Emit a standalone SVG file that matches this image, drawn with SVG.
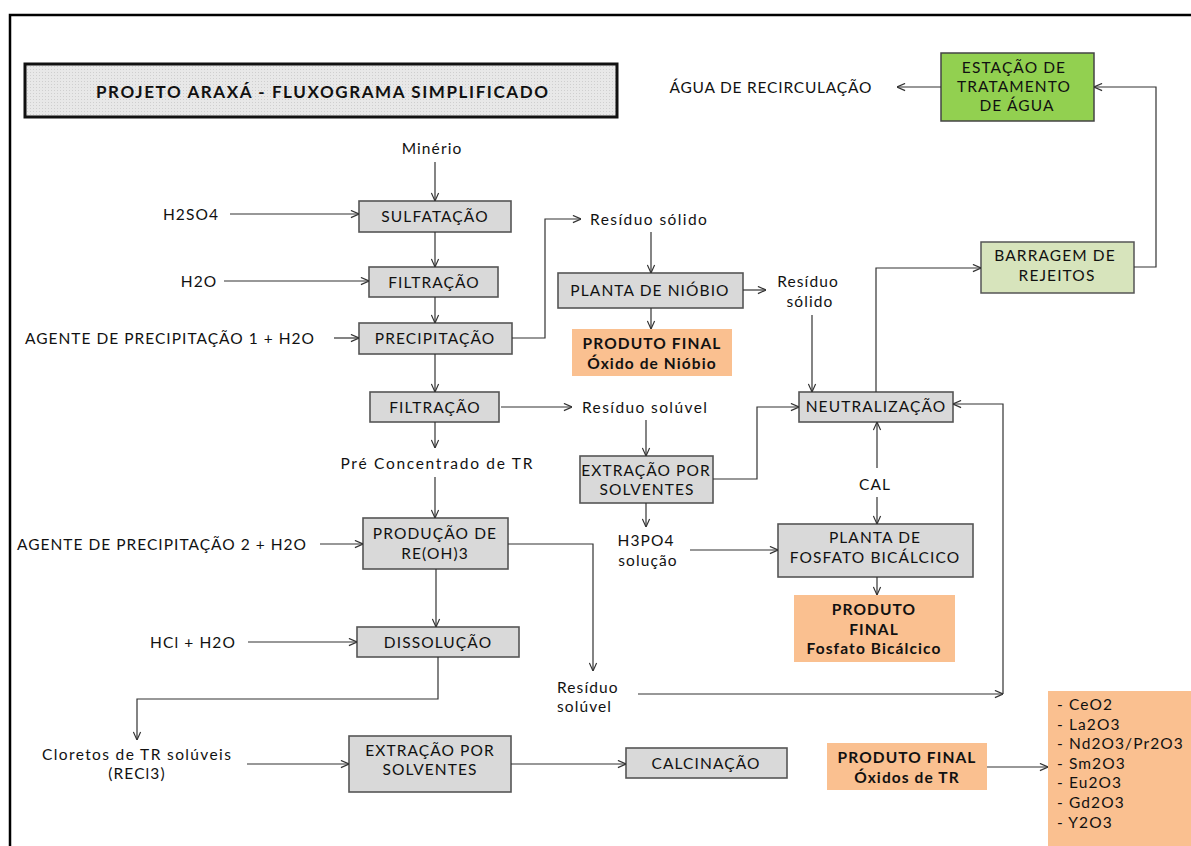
<svg xmlns="http://www.w3.org/2000/svg" width="1191" height="846" viewBox="0 0 1191 846">
<style>
text{font-family:Lato,"Open Sans","Liberation Sans",sans-serif;font-size:15.5px;fill:#111;letter-spacing:1.1px;dominant-baseline:central}
.c{text-anchor:middle}
.b{font-weight:bold}
.box{fill:#d9d9d9;stroke:#555;stroke-width:1.6}
.org{fill:#fac090;stroke:none}
.ln{fill:none;stroke:#333;stroke-width:1.2;marker-end:url(#ah)}
</style>
<defs>
<marker id="ah" viewBox="0 0 10 10" refX="10" refY="5" markerWidth="9" markerHeight="9" markerUnits="userSpaceOnUse" orient="auto">
<path d="M1,1 L10,5 L1,9" fill="none" stroke="#333" stroke-width="1.3"/>
</marker>
<pattern id="dots" width="3" height="3" patternUnits="userSpaceOnUse">
<rect width="3" height="3" fill="#e8e8e8"/>
<rect width="1" height="1" fill="#cfcfcf"/>
</pattern>
</defs>
<rect width="1191" height="846" fill="#fff"/>
<path d="M10,846 V15 H1191" fill="none" stroke="#000" stroke-width="2.5"/>

<g id="title">
<rect x="25" y="64" width="592" height="53" fill="url(#dots)" stroke="#111" stroke-width="3"/>
<text class="c b" x="322" y="91" style="font-size:17px;letter-spacing:0" textLength="452">PROJETO ARAXÁ - FLUXOGRAMA SIMPLIFICADO</text>
</g>

<g id="eta">
<rect x="941" y="53" width="153" height="68" fill="#92d050" stroke="#444" stroke-width="1.5"/>
<text class="c" x="1014" y="67">ESTAÇÃO  DE</text>
<text class="c" x="1014" y="86">TRATAMENTO</text>
<text class="c" x="1017" y="105">DE ÁGUA</text>
</g>
<g id="agua"><text class="c" x="771" y="87" textLength="203">ÁGUA  DE RECIRCULAÇÃO</text></g>

<g id="barragem">
<rect x="981" y="242" width="153" height="51" fill="#d7e4bc" stroke="#555" stroke-width="1.5"/>
<text class="c" x="1055" y="255">BARRAGEM  DE</text>
<text class="c" x="1057" y="275">REJEITOS</text>
</g>

<g id="minerio"><text class="c" x="432" y="148">Minério</text></g>
<g id="h2so4"><text class="c" x="191" y="214">H2SO4</text></g>
<g id="h2o"><text class="c" x="199" y="281">H2O</text></g>
<g id="agente1"><text class="c" x="170" y="338" textLength="290">AGENTE  DE PRECIPITAÇÃO  1 + H2O</text></g>

<g id="sulfatacao">
<rect class="box" x="359" y="201" width="152" height="31"/>
<text class="c" x="435" y="216">SULFATAÇÃO</text>
</g>
<g id="filtracao1">
<rect class="box" x="369" y="267" width="129" height="30"/>
<text class="c" x="434" y="282">FILTRAÇÃO</text>
</g>
<g id="precipitacao">
<rect class="box" x="359" y="323" width="153" height="31"/>
<text class="c" x="435" y="338">PRECIPITAÇÃO</text>
</g>

<g id="residuo-solido1"><text class="c" x="649" y="219" textLength="118">Resíduo  sólido</text></g>
<g id="planta-niobio">
<rect class="box" x="558" y="273" width="185" height="35"/>
<text class="c" x="650" y="290">PLANTA  DE NIÓBIO</text>
</g>
<g id="residuo-solido2">
<text class="c" x="808" y="281">Resíduo</text>
<text class="c" x="810" y="301">sólido</text>
</g>
<g id="produto-niobio">
<rect class="org" x="572" y="329" width="160" height="47"/>
<text class="c b" x="652" y="343">PRODUTO  FINAL</text>
<text class="c b" x="652" y="363">Óxido  de Nióbio</text>
</g>

<g id="filtracao2">
<rect class="box" x="370" y="392" width="129" height="30"/>
<text class="c" x="435" y="407">FILTRAÇÃO</text>
</g>
<g id="residuo-soluvel1"><text class="c" x="645" y="407" textLength="126">Resíduo  solúvel</text></g>
<g id="neutralizacao">
<rect class="box" x="799" y="392" width="154" height="30"/>
<text class="c" x="876" y="406">NEUTRALIZAÇÃO</text>
</g>
<g id="pre-concentrado"><text class="c" x="437" y="463" textLength="193">Pré  Concentrado  de TR</text></g>
<g id="extracao1">
<rect class="box" x="580" y="456" width="133" height="47"/>
<text class="c" x="646" y="470">EXTRAÇÃO  POR</text>
<text class="c" x="647" y="489">SOLVENTES</text>
</g>
<g id="cal"><text class="c" x="875" y="484">CAL</text></g>
<g id="h3po4">
<text class="c" x="646" y="540">H3PO4</text>
<text class="c" x="648" y="560">solução</text>
</g>
<g id="agente2"><text class="c" x="162" y="544" textLength="290">AGENTE  DE PRECIPITAÇÃO  2 + H2O</text></g>
<g id="producao">
<rect class="box" x="363" y="518" width="145" height="51"/>
<text class="c" x="435" y="533">PRODUÇÃO  DE</text>
<text class="c" x="435" y="553">RE(OH)3</text>
</g>
<g id="planta-fosfato">
<rect class="box" x="778" y="524" width="195" height="53"/>
<text class="c" x="875" y="537">PLANTA  DE</text>
<text class="c" x="875" y="557">FOSFATO  BICÁLCICO</text>
</g>
<g id="produto-fosfato">
<rect class="org" x="794" y="595" width="161" height="67"/>
<text class="c b" x="874" y="609">PRODUTO</text>
<text class="c b" x="874" y="629">FINAL</text>
<text class="c b" x="874" y="648">Fosfato  Bicálcico</text>
</g>
<g id="hcl"><text class="c" x="193" y="642">HCl + H2O</text></g>
<g id="dissolucao">
<rect class="box" x="357" y="627" width="162" height="30"/>
<text class="c" x="438" y="642">DISSOLUÇÃO</text>
</g>
<g id="residuo-soluvel2">
<text x="557" y="687">Resíduo</text>
<text x="557" y="706">solúvel</text>
</g>
<g id="cloretos">
<text class="c" x="137" y="754" textLength="190">Cloretos  de TR solúveis</text>
<text class="c" x="137" y="773">(RECl3)</text>
</g>
<g id="extracao2">
<rect class="box" x="349" y="736" width="162" height="56"/>
<text class="c" x="430" y="750">EXTRAÇÃO  POR</text>
<text class="c" x="430" y="769">SOLVENTES</text>
</g>
<g id="calcinacao">
<rect class="box" x="626" y="748" width="161" height="30"/>
<text class="c" x="706" y="763">CALCINAÇÃO</text>
</g>
<g id="produto-oxidos">
<rect class="org" x="827" y="743" width="160" height="47"/>
<text class="c b" x="907" y="757">PRODUTO  FINAL</text>
<text class="c b" x="907" y="777">Óxidos  de TR</text>
</g>
<g id="lista-oxidos">
<rect class="org" x="1048" y="691" width="145" height="160"/>
<text x="1057" y="704">- CeO2</text>
<text x="1057" y="724">- La2O3</text>
<text x="1057" y="743">- Nd2O3/Pr2O3</text>
<text x="1057" y="763">- Sm2O3</text>
<text x="1057" y="782">- Eu2O3</text>
<text x="1057" y="802">- Gd2O3</text>
<text x="1057" y="822">- Y2O3</text>
</g>

<g id="connectors">
<path class="ln" d="M435,162 V201"/>
<path class="ln" d="M230,214 H359"/>
<path class="ln" d="M224,281 H369"/>
<path class="ln" d="M435,232 V267"/>
<path class="ln" d="M435,297 V323"/>
<path class="ln" d="M334,338 H359"/>
<path class="ln" d="M512,338 H545 V219 H581"/>
<path class="ln" d="M651,232 V273"/>
<path class="ln" d="M743,290 H766"/>
<path class="ln" d="M651,308 V329"/>
<path class="ln" d="M812,315 V392"/>
<path class="ln" d="M435,354 V392"/>
<path class="ln" d="M501,407 H572"/>
<path class="ln" d="M435,422 V448"/>
<path class="ln" d="M435,477 V518"/>
<path class="ln" d="M320,544 H363"/>
<path class="ln" d="M508,544 H593 V671"/>
<path class="ln" d="M436,569 V627"/>
<path class="ln" d="M248,642 H357"/>
<path class="ln" d="M438,657 V699 H137 V740"/>
<path class="ln" d="M247,764 H349"/>
<path class="ln" d="M511,764 H626"/>
<path class="ln" d="M987,767 H1048"/>
<path class="ln" d="M638,694 H1003"/>
<path class="ln" d="M1003,694 V404 H953"/>
<path class="ln" d="M646,420 V456"/>
<path class="ln" d="M713,479 H757 V407 H799"/>
<path class="ln" d="M646,503 V527"/>
<path class="ln" d="M690,550 H778"/>
<path class="ln" d="M877,468 V422"/>
<path class="ln" d="M877,497 V524"/>
<path class="ln" d="M877,577 V595"/>
<path class="ln" d="M876,392 V268 H981"/>
<path class="ln" d="M1134,267 H1156 V87 H1094"/>
<path class="ln" d="M941,87 H897"/>
</g>
</svg>
